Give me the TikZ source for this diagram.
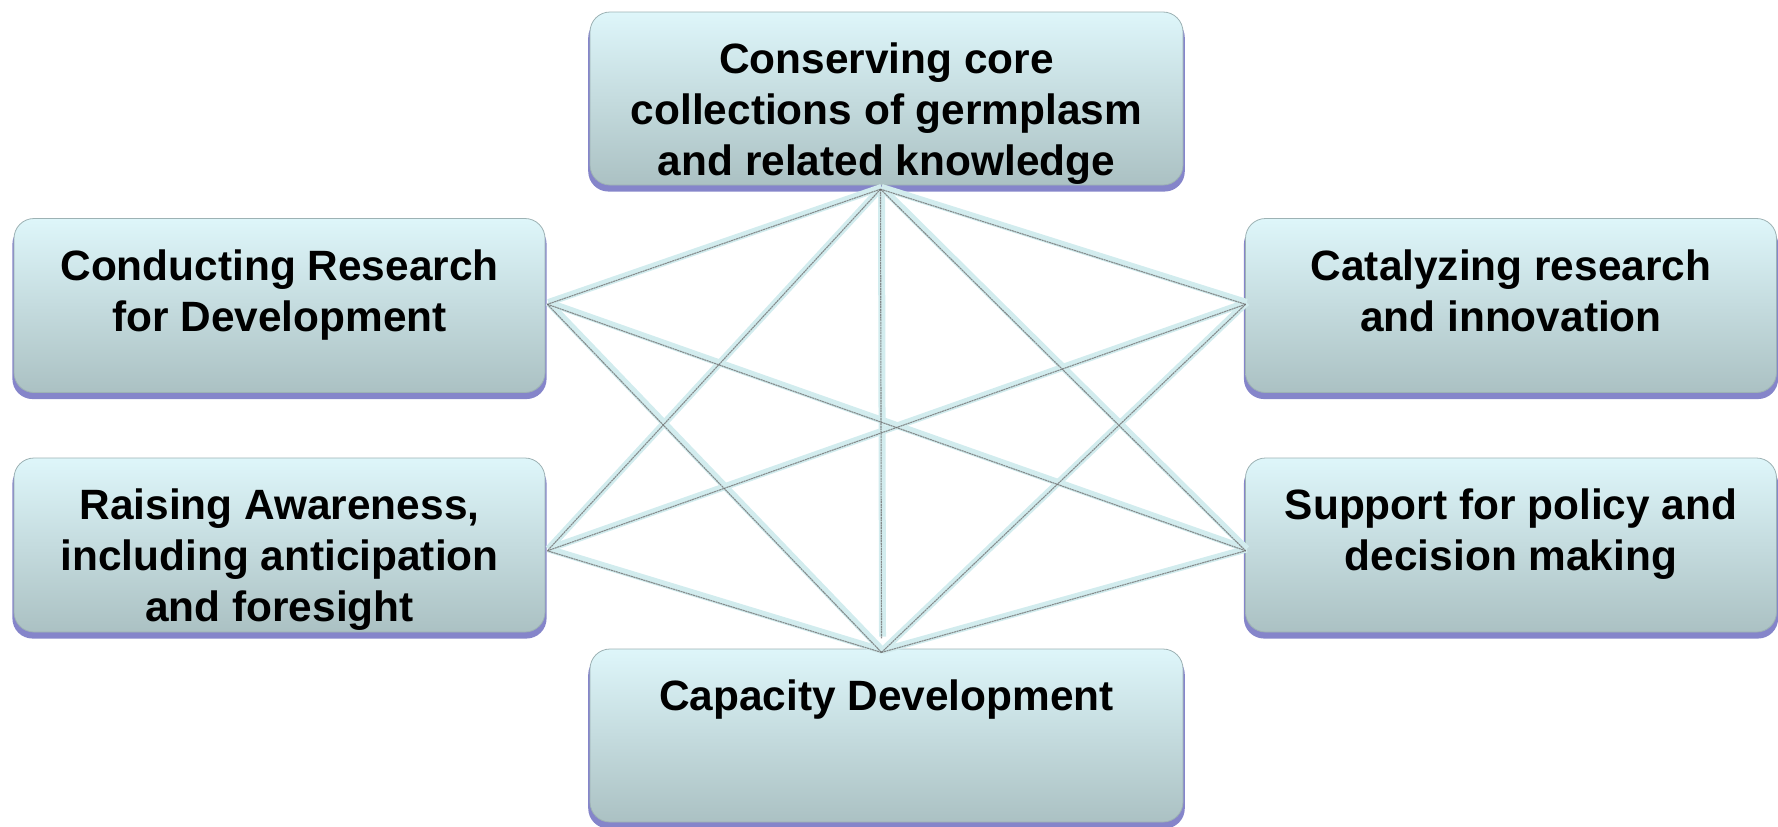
\documentclass[tikz,border=0pt]{standalone}
\usepackage{fontspec}
\setmainfont{Liberation Sans}
\usetikzlibrary{shadows}
\definecolor{boxtop}{HTML}{DEF6FA}
\definecolor{boxbot}{HTML}{ABC1C3}
\definecolor{boxedge}{HTML}{9DB2B4}
\definecolor{shdw}{HTML}{7878C4}
\definecolor{linec}{HTML}{D2ECEE}
\definecolor{lined}{HTML}{6A6A6A}
\begin{document}
\begin{tikzpicture}[x=1pt,y=-1pt,
  box/.style={rounded corners=20pt, top color=boxtop, bottom color=boxbot,
    draw=boxedge, line width=0.8pt, inner sep=0pt,
    drop shadow={shadow xshift=0pt, shadow yshift=-6pt, shadow scale=1.006, fill=shdw, opacity=0.9}},
  sidebox/.style={box, minimum width=531pt, minimum height=174pt},
  midbox/.style={box, minimum width=593pt, minimum height=173pt},
  lbl/.style={font=\bfseries\fontsize{42.4}{51}\selectfont, align=center, anchor=north, inner sep=0pt, text=black},
  conn/.style={linec, line width=7pt},
  connsh/.style={lined, line width=1.1pt, opacity=0.75, dash pattern=on 2pt off 0.6pt, transform canvas={xshift=-1pt, yshift=-1.8pt}}]
\useasboundingbox (0,0) rectangle (1778,827);

% boxes
\node[midbox]  (t)  at (886.5, 98.5) {};
\node[sidebox] (lu) at (279.5, 305.5) {};
\node[sidebox] (ll) at (279.5, 545) {};
\node[sidebox] (ru) at (1511, 305.5) {};
\node[sidebox] (rl) at (1511, 545) {};
\node[midbox]  (b)  at (886.5, 735.5) {};

% labels
\node[lbl] (tt)  at ([yshift=-31pt]t.north)  {Conserving core\\collections of germplasm\\and related knowledge};
\node[lbl] (lut) at ([yshift=-31pt]lu.north) {Conducting Research\\for Development};
\node[lbl] (llt) at ([yshift=-31pt]ll.north) {Raising Awareness,\\including anticipation\\and foresight};
\node[lbl] (rut) at ([yshift=-31pt]ru.north) {Catalyzing research\\and innovation};
\node[lbl] (rlt) at ([yshift=-31pt]rl.north) {Support for policy and\\decision making};
\node[lbl] (bt)  at ([yshift=-31pt]b.north)  {Capacity Development};

% connector end points
\coordinate (pT)  at ([xshift=-5pt, yshift=-2pt]t.south);
\coordinate (pB)  at ([xshift=-4pt, yshift=-2pt]b.north);
\coordinate (pV)  at ([yshift=14pt]pB);
\coordinate (pLU) at ([xshift=3pt, yshift=3pt]lu.east);
\coordinate (pLL) at ([xshift=3pt, yshift=-4pt]ll.east);
\coordinate (pRU) at ([xshift=1.5pt, yshift=3pt]ru.west);
\coordinate (pRL) at ([xshift=1.5pt, yshift=-4pt]rl.west);

% connectors
\foreach \a/\b in {pT/pV, pT/pLU, pT/pLL, pT/pRU, pT/pRL, pB/pLU, pB/pLL, pB/pRU, pB/pRL, pLU/pRL, pLL/pRU}
  \draw[conn] (\a) -- (\b);
\foreach \a/\b in {pT/pV, pT/pLU, pT/pLL, pT/pRU, pT/pRL, pB/pLU, pB/pLL, pB/pRU, pB/pRL, pLU/pRL, pLL/pRU}
  \draw[connsh] (\a) -- (\b);
\end{tikzpicture}
\end{document}
